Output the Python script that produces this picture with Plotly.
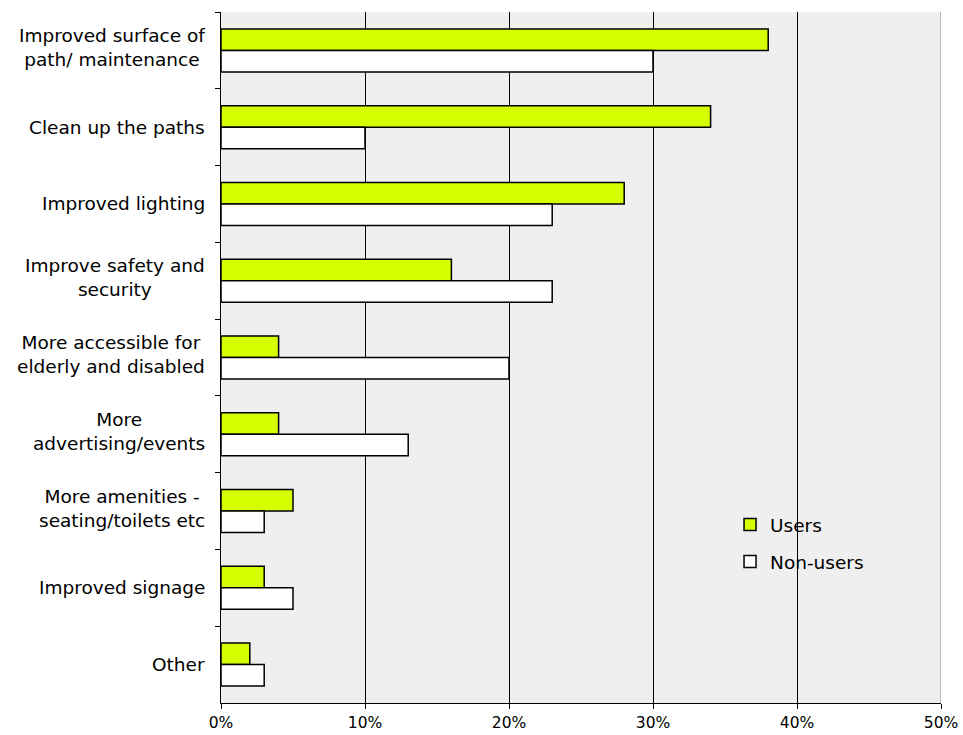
import plotly.graph_objects as go

# Survey: suggested improvements to the path network
categories = [
    "Improved surface of<br>path/ maintenance",
    "Clean up the paths",
    "Improved lighting",
    "Improve safety and<br>security",
    "More accessible for<br>elderly and disabled",
    "More<br>advertising/events",
    "More amenities -<br>seating/toilets etc",
    "Improved signage",
    "Other",
]
users = [38, 34, 28, 16, 4, 4, 5, 3, 2]
non_users = [30, 10, 23, 23, 20, 13, 3, 5, 3]
x_ticks = [0, 10, 20, 30, 40, 50]

FONT = "DejaVu Sans, Verdana, sans-serif"
LABEL_SIZE = 18.5

fig = go.Figure()
fig.add_trace(go.Bar(
    y=categories, x=users, orientation="h", name="Users",
    legendgroup="users",
    marker=dict(color="#d4ff00", line=dict(color="black", width=1.5)),
))
fig.add_trace(go.Bar(
    y=categories, x=non_users, orientation="h", name="Non-users",
    legendgroup="non",
    marker=dict(color="white", line=dict(color="black", width=1.5)),
))

# Category labels: lines centred within the block, block ends just left of the axis
for cat in categories:
    lift = 3 if "<br>" in cat else 0
    fig.add_annotation(
        x=0, xref="paper", y=cat, yref="y",
        text=cat, showarrow=False, xanchor="right", align="center",
        xshift=-14, yshift=lift,
        font=dict(family=FONT, size=LABEL_SIZE, color="black"),
    )

# Grey right border of the plotting area
fig.add_shape(type="line", xref="x", yref="paper", x0=50, x1=50, y0=0, y1=1,
              line=dict(color="#808080", width=1))

fig.update_layout(
    width=963, height=735,
    margin=dict(l=221, r=22, t=12, b=32, autoexpand=False),
    paper_bgcolor="white", plot_bgcolor="#efefef",
    barmode="group", bargap=0.44, bargroupgap=0,
    font=dict(family=FONT, size=16, color="black"),
    showlegend=True,
    legend=dict(
        x=0.707, y=0.231, xanchor="left", yanchor="middle",
        bgcolor="rgba(0,0,0,0)", font=dict(family=FONT, size=LABEL_SIZE),
        traceorder="grouped", tracegroupgap=10,
    ),
    xaxis=dict(
        range=[0, 50], tickvals=x_ticks,
        ticktext=[f"{v}%" for v in x_ticks],
        showgrid=True, gridcolor="black", gridwidth=1, zeroline=False,
        showline=True, linecolor="black", linewidth=1,
        ticks="outside", ticklen=5, tickcolor="black",
        ticklabelstandoff=0, automargin=False,
        tickfont=dict(family=FONT, size=15.5), fixedrange=True,
    ),
    yaxis=dict(
        autorange="reversed", type="category",
        showticklabels=False, showgrid=False, zeroline=False,
        showline=True, linecolor="black", linewidth=1, automargin=False,
        ticks="outside", ticklen=5, tickcolor="black", tickson="boundaries",
    ),
)

fig.write_html("out.html")
